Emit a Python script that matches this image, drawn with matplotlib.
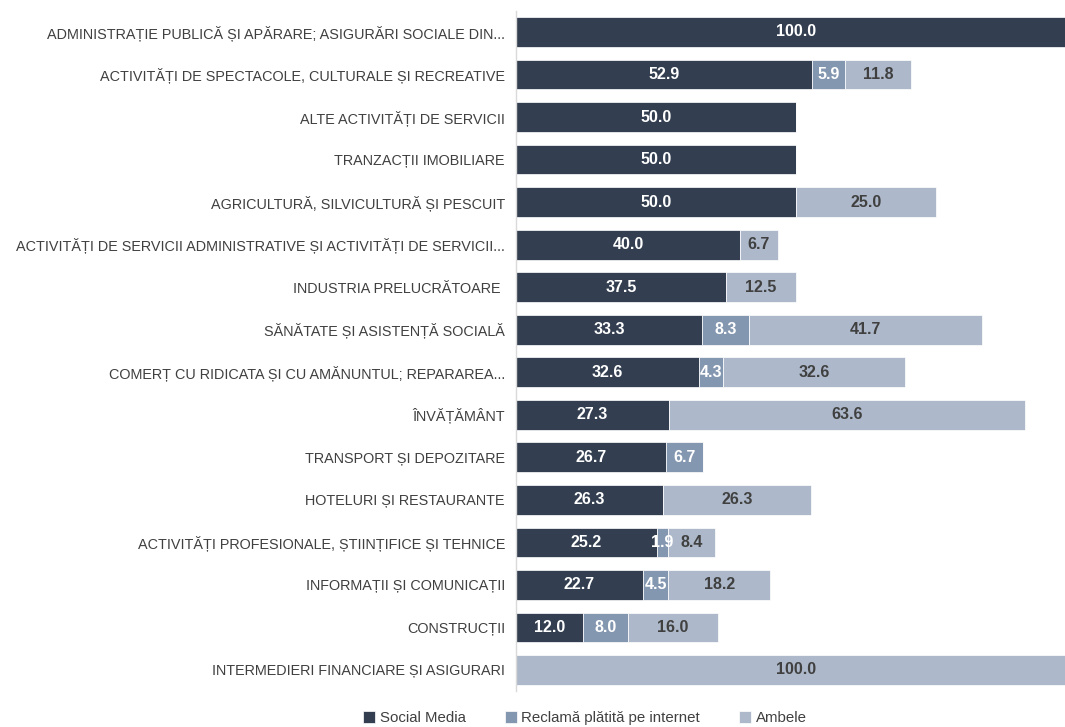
import matplotlib
matplotlib.use("Agg")
import matplotlib.pyplot as plt
import numpy as np

plt.rcParams['font.family'] = ['Liberation Sans Narrow', 'Liberation Sans', 'DejaVu Sans']

categories = [
    "ADMINISTRAȚIE PUBLICĂ ȘI APĂRARE; ASIGURĂRI SOCIALE DIN...",
    "ACTIVITĂȚI DE SPECTACOLE, CULTURALE ȘI RECREATIVE",
    "ALTE ACTIVITĂȚI DE SERVICII",
    "TRANZACȚII IMOBILIARE",
    "AGRICULTURĂ, SILVICULTURĂ ȘI PESCUIT",
    "ACTIVITĂȚI DE SERVICII ADMINISTRATIVE ȘI ACTIVITĂȚI DE SERVICII...",
    "INDUSTRIA PRELUCRĂTOARE ",
    "SĂNĂTATE ȘI ASISTENȚĂ SOCIALĂ",
    "COMERȚ CU RIDICATA ȘI CU AMĂNUNTUL; REPARAREA...",
    "ÎNVĂȚĂMÂNT",
    "TRANSPORT ȘI DEPOZITARE",
    "HOTELURI ȘI RESTAURANTE",
    "ACTIVITĂȚI PROFESIONALE, ȘTIINȚIFICE ȘI TEHNICE",
    "INFORMAȚII ȘI COMUNICAȚII",
    "CONSTRUCȚII",
    "INTERMEDIERI FINANCIARE ȘI ASIGURARI",
]
social_media = [100.0, 52.9, 50.0, 50.0, 50.0, 40.0, 37.5, 33.3, 32.6, 27.3, 26.7, 26.3, 25.2, 22.7, 12.0, 0.0]
reclama = [0.0, 5.9, 0.0, 0.0, 0.0, 0.0, 0.0, 8.3, 4.3, 0.0, 6.7, 0.0, 1.9, 4.5, 8.0, 0.0]
ambele = [0.0, 11.8, 0.0, 0.0, 25.0, 6.7, 12.5, 41.7, 32.6, 63.6, 0.0, 26.3, 8.4, 18.2, 16.0, 100.0]
series_names = ["Social Media", "Reclamă plătită pe internet", "Ambele"]

colors = ["#333F50", "#8497B0", "#ADB9CA"]
text_colors = ["white", "white", "#404040"]

W, H = 1065, 727
fig = plt.figure(figsize=(W / 100, H / 100), dpi=100)
left = 516 / W
right = 1076 / W
n = len(categories)
step = (670 - 32) / (n - 1)
top_px = 32 - step / 2
bot_px = 670 + step / 2
ax = fig.add_axes([left, 1 - bot_px / H, right - left, (bot_px - top_px) / H])

y = np.arange(n)
lefts = np.zeros(n)
for vals, c, tc, name in zip([social_media, reclama, ambele], colors, text_colors, series_names):
    vals = np.array(vals)
    ax.barh(y, vals, left=lefts, color=c, height=0.7, label=name,
            edgecolor='white', linewidth=0.5)
    for yi, v, l in zip(y, vals, lefts):
        if v > 0:
            ax.text(l + v / 2, yi, f"{v:.1f}", ha='center', va='center',
                    color=tc, fontsize=11.5, fontweight='bold')
    lefts = lefts + vals

ax.set_xlim(0, 100)
ax.set_ylim(n - 0.5, -0.5)
ax.set_yticks(y)
ax.set_yticklabels(categories, fontsize=10.4, color='#404040')
ax.tick_params(axis='y', length=0, pad=8)
ax.set_xticks([])
for s in ['top', 'right', 'bottom']:
    ax.spines[s].set_visible(False)
ax.spines['left'].set_color('#D9D9D9')
ax.spines['left'].set_linewidth(1)

leg = fig.legend(loc='center', bbox_to_anchor=(585 / W, 1 - 718 / H), ncol=3, frameon=False,
                 fontsize=10.8, handlelength=0.8, handleheight=0.8, columnspacing=2.6,
                 handletextpad=0.3)
for t in leg.get_texts():
    t.set_color('#404040')

fig.savefig("out.png", dpi=100)
